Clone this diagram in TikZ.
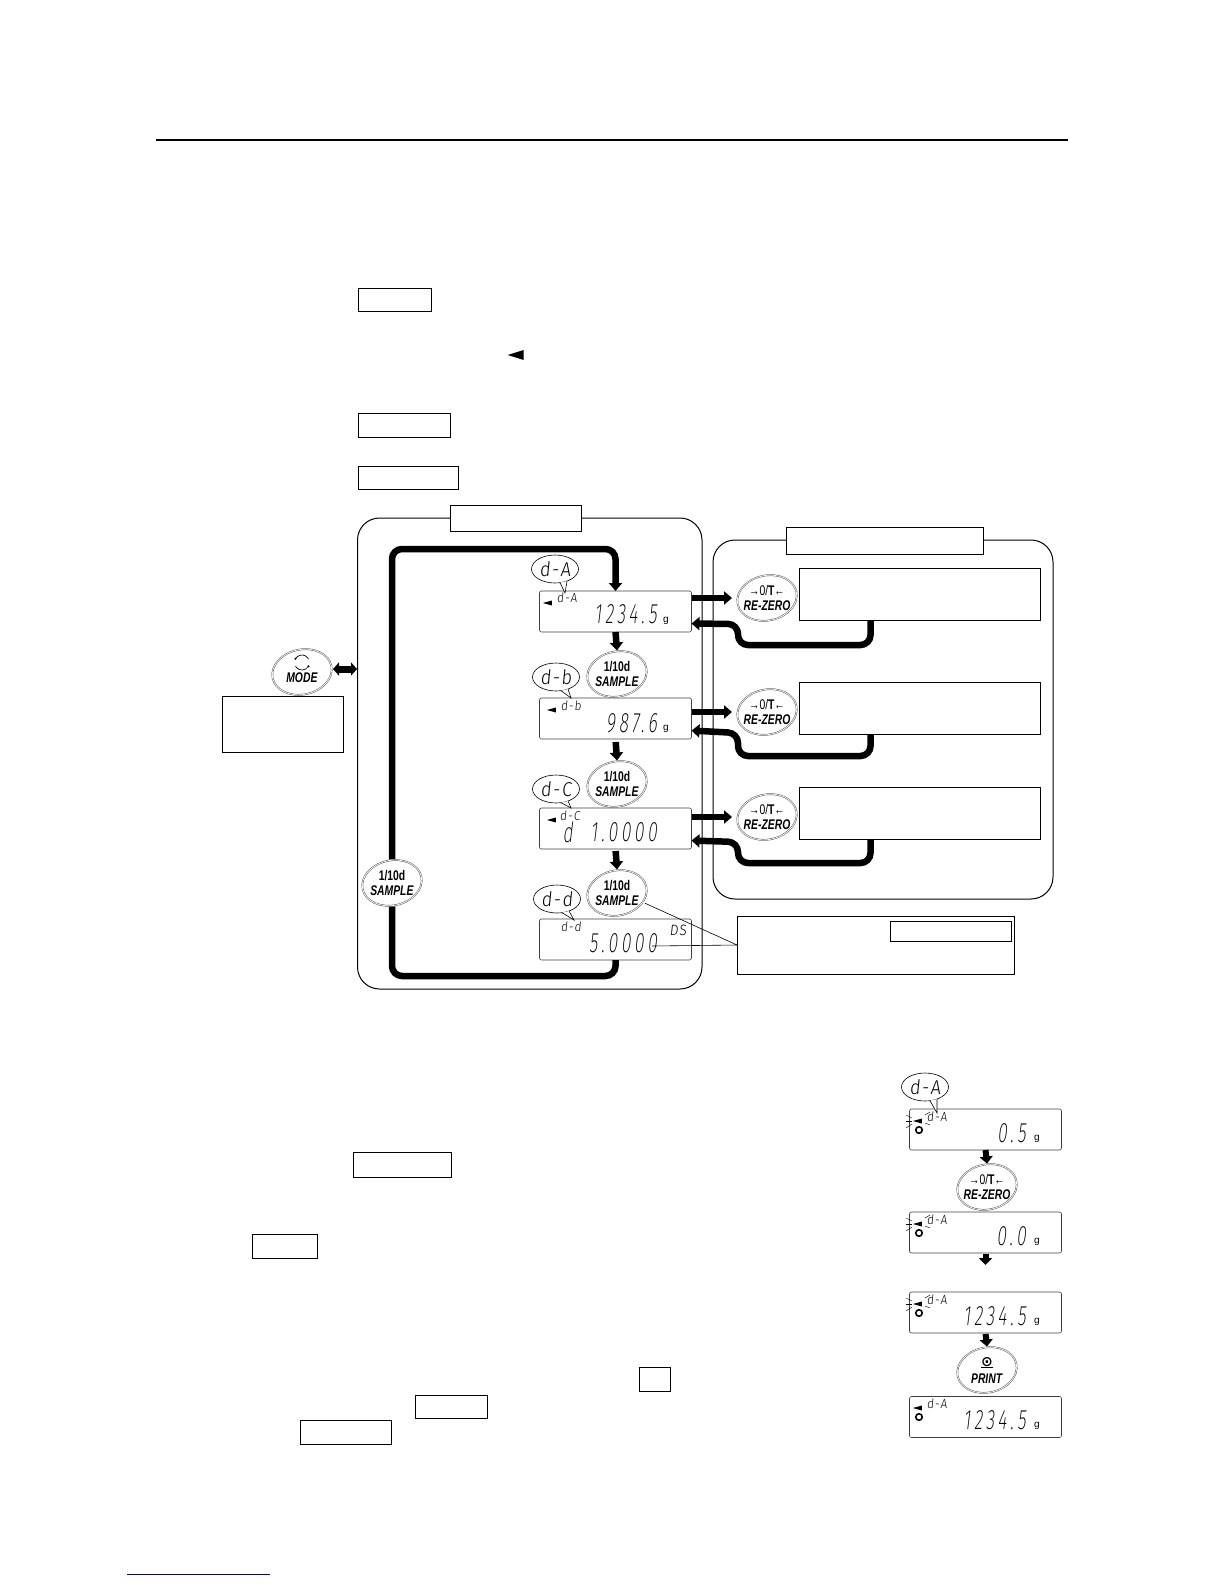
\documentclass[tikz,border=0pt]{standalone}
\usepackage{fontspec}
\setmainfont{Liberation Sans}
\newfontfamily\btnfont[FakeStretch=0.74]{Liberation Sans}
\newfontfamily\segfont[FakeSlant=0.12,FakeStretch=0.62,LetterSpace=13]{Fira Sans ExtraLight}
\newfontfamily\balfont[FakeSlant=0.1,FakeStretch=0.9,LetterSpace=8]{Fira Sans Light}
\newfontfamily\symfont{DejaVu Sans}
\usetikzlibrary{positioning,arrows.meta,shapes.geometric,calc}

\begin{document}
\begin{tikzpicture}[
  x=1pt, y=-1pt,
  panel/.style={draw, line width=1pt, rounded corners=22pt},
  blank/.style={draw, line width=1pt, inner sep=0pt, outer sep=0pt},
  dispbox/.style={draw=black!75, line width=0.6pt, rounded corners=2pt, minimum width=152pt, minimum height=41pt, inner sep=0pt, outer sep=0pt},
  btn/.style={ellipse, fill=white, inner sep=0pt, outer sep=0pt, minimum width=62pt, minimum height=47pt, align=center,
    font=\btnfont\fontsize{14}{15}\selectfont\bfseries,
    label={[ellipse, draw=black!65, line width=0.5pt, double=white, double distance=0.7pt, rotate=12, minimum width=60pt, minimum height=45pt, inner sep=0pt]center:{}}},
  bal/.style={ellipse, draw, line width=0.6pt, fill=white, inner sep=0pt, outer sep=0pt, minimum width=47pt, minimum height=28pt, font=\balfont\fontsize{20}{20}\selectfont},
  seg/.style={inner sep=0pt, anchor=east, font=\segfont\fontsize{28}{28}\selectfont},
  segs/.style={inner sep=0pt, font=\balfont\fontsize{13}{13}\selectfont},
  unit/.style={inner sep=0pt, font=\fontsize{10}{10}\selectfont},
  ind/.style={isosceles triangle, isosceles triangle stretches, fill=black, shape border rotate=180, inner sep=0pt, minimum height=9pt, minimum width=5pt},
  ring/.style={circle, draw, line width=1.6pt, inner sep=0pt, minimum size=6.5pt},
  arr/.style={-{Triangle[width=13pt,length=8pt]}, line width=6.5pt},
  arrs/.style={-{Triangle[width=13pt,length=7pt]}, line width=6pt},
  duo/.style={{Triangle[width=13pt,length=6pt]}-{Triangle[width=13pt,length=6pt]}, line width=7pt},
  leader/.style={line width=0.6pt},
  tick/.style={line width=0.4pt},
]
  \useasboundingbox (0,0) rectangle (1224,1584);

  % rules
  \coordinate (rulea) at (156,140);
  \coordinate (ruleb) at (1068,140);
  \draw[line width=1.5pt] (rulea) -- (ruleb);
  \coordinate (linka) at (127,1574.5);
  \coordinate (linkb) at (270,1574.5);
  \draw[blue!70!black, line width=1pt] (linka) -- (linkb);

  % key frames in the text
  \draw[blank] (358.5,288) rectangle (431,311);
  \draw[blank] (358.5,413) rectangle (450.5,437);
  \draw[blank] (358.5,466) rectangle (458.5,489);
  \draw[blank] (353.5,1152) rectangle (451.5,1177);
  \draw[blank] (252.5,1234) rectangle (317,1258);
  \draw[blank] (639,1367) rectangle (670.5,1391);
  \draw[blank] (415,1395) rectangle (487,1418);
  \draw[blank] (300,1420) rectangle (391,1444);
  \node[ind, minimum height=16pt, minimum width=10pt] (indtop) at (520,355) {};

  % panels
  \draw[panel] (357.5,518) rectangle (702,989);
  \draw[panel] (713,540) rectangle (1053,899);
  \node[blank, fill=white, minimum width=131pt, minimum height=26pt] (tabl) at (515.5,518) {};
  \node[blank, fill=white, minimum width=197pt, minimum height=27pt] (tabr) at (885,540.5) {};

  % displays
  \node[dispbox] (dispa) at (615.5,611.5) {};
  \node[dispbox] (dispb) at (615.5,718.5) {};
  \node[dispbox] (dispc) at (615.5,828.5) {};
  \node[dispbox] (dispd) at (615.5,939.5) {};
  \node[ind] (inda) at (550,603) {};
  \node[ind] (indb) at (554,710) {};
  \node[ind] (indc) at (554,820) {};
  \node[segs] (laba) at (567,598) {d-A};
  \node[segs] (labb) at (571,706) {d-b};
  \node[segs] (labc) at (570,816) {d-C};
  \node[segs] (labd) at (571,927) {d-d};
  \node[seg] (vala) at (657,614) {1234.5};
  \node[unit] (unita) at (666,621) {g};
  \node[seg] (valb) at (657,723) {987.6};
  \node[unit] (unitb) at (666,729) {g};
  \node[seg] (valc) at (657,832) {1.0000};
  \node[seg] (valcd) at (573,832) {d};
  \node[seg] (vald) at (657,943) {5.0000};
  \node[segs, font=\balfont\fontsize{15}{15}\selectfont] (flagds) at (678,930) {DS};

  % buttons
  \node[btn] (modebtn) at (302,672) {~\\[7pt]\textit{MODE}};
  \draw[line width=0.7pt] (295.5,658.75) arc[start angle=-150,end angle=-30,radius=7.5];
  \draw[line width=0.7pt] (295.5,666.25) arc[start angle=150,end angle=30,radius=7.5];
  \fill (295.5,658.75) circle[radius=1.2];
  \fill (308.5,666.25) circle[radius=1.2];
  \node[btn] (sampleb) at (617,674) {1/10d\\\textit{SAMPLE}};
  \node[btn] (samplec) at (617,784) {1/10d\\\textit{SAMPLE}};
  \node[btn] (sampled) at (617,893) {1/10d\\\textit{SAMPLE}};
  \node[btn] (rza) at (767,598) {{\mdseries→0/}T{\mdseries←}\\\textit{RE-ZERO}};
  \node[btn] (rzb) at (767,712) {{\mdseries→0/}T{\mdseries←}\\\textit{RE-ZERO}};
  \node[btn] (rzc) at (767,817) {{\mdseries→0/}T{\mdseries←}\\\textit{RE-ZERO}};

  % right hand frames
  \node[blank, minimum width=241pt, minimum height=52pt] (boxa) at (919.5,594) {};
  \node[blank, minimum width=241pt, minimum height=52pt] (boxb) at (919.5,708) {};
  \node[blank, minimum width=241pt, minimum height=52pt] (boxc) at (919.5,813) {};
  \node[blank, minimum width=121pt, minimum height=56pt] (modenote) at (282.5,724) {};
  \node[blank, minimum width=277pt, minimum height=58pt] (note) at (875.5,945) {};
  \node[blank, minimum width=121pt, minimum height=20pt] (noteket) at (950.5,931) {};

  % balloons
  \node[bal] (bala) at (555,569) {d-A};
  \node[bal] (balb) at (556,677) {d-b};
  \node[bal] (balc) at (556,789) {d-C};
  \node[bal] (bald) at (557,899) {d-d};
  \coordinate (tipa) at (565,593);
  \coordinate (tipb) at (571,698);
  \coordinate (tipc) at (571,808);
  \coordinate (tipd) at (574,920);
  \draw[leader, fill=white] (bala.-70) -- (tipa) -- (bala.-45);
  \draw[leader, fill=white] (balb.-70) -- (tipb) -- (balb.-45);
  \draw[leader, fill=white] (balc.-70) -- (tipc) -- (balc.-45);
  \draw[leader, fill=white] (bald.-70) -- (tipd) -- (bald.-45);

  % flow
  \draw[arr, rounded corners=10pt] (dispd.south) -- (dispd.south |- 0,976) -- (392,976)
    -- node[btn, pos=0.218] (samplea) {1/10d\\\textit{SAMPLE}} (392,549) -- (dispa.north |- 0,549) -- (dispa.north);
  \draw[arr] (dispa.south) -- (sampleb.north);
  \draw[arr, shorten <=3pt] (dispb.south) -- (samplec.north);
  \draw[arr, shorten <=2pt] (dispc.south) -- (sampled.north);
  \draw[duo] (modebtn.east |- 0,669) -- (357,669);

  \draw[arr, shorten >=2pt] (dispa.east |- rza) -- (rza);
  \draw[arr, shorten >=2pt] (dispb.east |- rzb) -- (rzb);
  \draw[arr, shorten >=2pt] (dispc.east |- rzc) -- (rzc);
  \coordinate (reta) at (870.5,620);
  \coordinate (retb) at (870.5,734);
  \coordinate (retc) at (870.5,839);
  \draw[arr, rounded corners=10pt] (reta) -- (870.5,645) -- (738,645) -- (738,624) -- (dispa.-9);
  \draw[arr, rounded corners=10pt] (retb) -- (870.5,756) -- (738,756) -- (738,733) -- (dispb.-9);
  \draw[arr, rounded corners=10pt] (retc) -- (870.5,863) -- (738,863) -- (738,842) -- (dispc.-9);

  \draw[leader] (sampled.-20) -- (note.west);
  \coordinate (valtail) at (652,946);
  \draw[leader] (valtail) -- (note.west);

  % zero then print sequence
  \node[dispbox] (dispe) at (985.5,1129.5) {};
  \node[dispbox] (dispf) at (985.5,1232.5) {};
  \node[dispbox] (dispg) at (985.5,1312.5) {};
  \node[dispbox] (disph) at (985.5,1417) {};
  \node[btn] (rzd) at (987,1187) {{\mdseries→0/}T{\mdseries←}\\\textit{RE-ZERO}};
  \node[btn] (printbtn) at (987,1370) {{\symfont\underline{⊙}}\\[2pt]\textit{PRINT}};
  \node[seg] (vale) at (1026,1133) {0.5};
  \node[seg] (valf) at (1026,1236) {0.0};
  \node[seg] (valg) at (1026,1316) {1234.5};
  \node[seg] (valh) at (1026,1420) {1234.5};
  \node[unit] (unite) at (1037,1139) {g};
  \node[unit] (unitf) at (1037,1242) {g};
  \node[unit] (unitg) at (1037,1322) {g};
  \node[unit] (unith) at (1037,1426) {g};
  \node[segs] (labe) at (937,1117) {d-A};
  \node[segs] (labf) at (937,1220) {d-A};
  \node[segs] (labg) at (937,1300) {d-A};
  \node[segs] (labh) at (937,1404) {d-A};
  \node[ind] (inde) at (920,1121) {};
  \node[ind] (indf) at (920,1224) {};
  \node[ind] (indg) at (920,1304) {};
  \node[ind] (indh) at (920,1408) {};
  \node[ring] (ringe) at (919,1130) {};
  \node[ring] (ringf) at (919,1233) {};
  \node[ring] (ringg) at (919,1313) {};
  \node[ring] (ringh) at (919,1417) {};
  \foreach \y in {1121,1224,1304} {
    \draw[tick] (906,\y-6) -- (912,\y-3);
    \draw[tick] (906,\y) -- (912,\y);
    \draw[tick] (906,\y+7) -- (912,\y+3);
    \draw[tick] (925,\y-6) -- (930,\y-9);
    \draw[tick] (925,\y+2) -- (930,\y+4);
  }
  \node[bal] (bale) at (925,1087) {d-A};
  \coordinate (tipe) at (937,1113);
  \draw[leader, fill=white] (bale.-70) -- (tipe) -- (bale.-45);
  \draw[arrs] (dispe.south) -- (rzd.north);
  \coordinate (endf) at (985.5,1265);
  \draw[arrs, shorten <=1pt] (dispf.south) -- (endf);
  \draw[arrs, shorten <=1pt] (dispg.south) -- (printbtn.north);
\end{tikzpicture}
\end{document}
